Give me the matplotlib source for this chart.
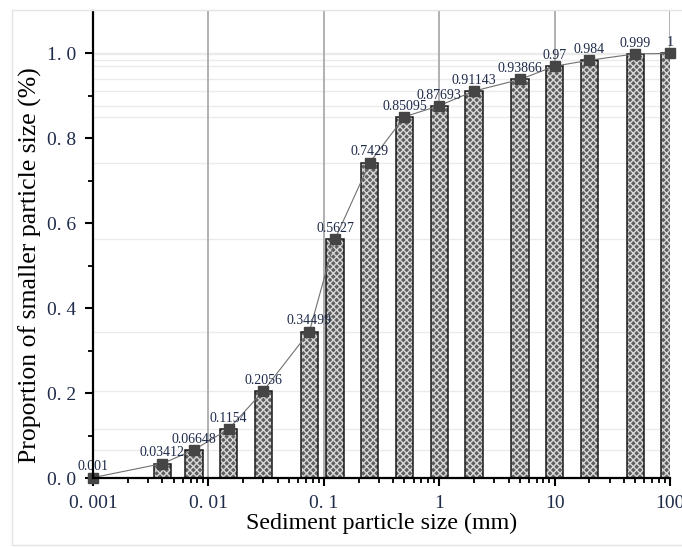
#!/usr/bin/env python3
"""
Cumulative grain-size distribution of sediment (bars + curve)
"""

import matplotlib.pyplot as plt
from matplotlib.patches import Rectangle
from matplotlib.ticker import FixedLocator, LogLocator, NullFormatter

# particle sizes (mm) and cumulative proportion finer
sizes = [0.001, 0.004, 0.0075, 0.015, 0.03, 0.075, 0.125, 0.25, 0.5,
         1, 2, 5, 10, 20, 50, 100]
proportion = [0.001, 0.03412, 0.06648, 0.1154, 0.2056, 0.34499, 0.5627, 0.7429,
              0.85095, 0.87693, 0.91143, 0.93866, 0.97, 0.984, 0.999, 1.0]
labels = ["0.001", "0.03412", "0.06648", "0.1154", "0.2056", "0.34499", "0.5627",
          "0.7429", "0.85095", "0.87693", "0.91143", "0.93866", "0.97", "0.984",
          "0.999", "1"]

x_ticks = [0.001, 0.01, 0.1, 1, 10, 100]
x_ticklabels = ["0. 001", "0. 01", "0. 1", "1", "10", "100"]
y_ticks = [0.0, 0.2, 0.4, 0.6, 0.8, 1.0]
y_ticklabels = ["0. 0", "0. 2", "0. 4", "0. 6", "0. 8", "1. 0"]


def create_plot():
    plt.rcParams['font.family'] = ['Liberation Serif', 'DejaVu Serif']
    txt_color = '#1f2b4a'

    fig = plt.figure(figsize=(6.82, 5.47), dpi=100)
    # faint frame around the picture
    fig.patches.append(Rectangle((12 / 682, 2 / 547), 1.0, 535 / 547,
                                 transform=fig.transFigure, fill=False,
                                 edgecolor='#e4e4e4', linewidth=1))
    ax = fig.add_axes([0.1364, 0.1261, 0.846, 0.8538])
    ax.set_xscale('log')

    # faint reference lines at each value
    for v in proportion[2:]:
        ax.axhline(v, color='#ebebeb', linewidth=1, zorder=0)
    for xv in x_ticks[1:]:
        ax.axvline(xv, color='#b0b0b0', linewidth=1.4, zorder=0)

    # bars with constant width in log space (0.15 decade)
    f = 10 ** 0.075
    bar_x = sizes[1:]
    bar_h = proportion[1:]
    lefts = [s / f for s in bar_x]
    widths = [s * f - s / f for s in bar_x]
    ax.bar(lefts, bar_h, width=widths, align='edge', color='#5e5e5e',
           edgecolor='#d8d8d8', hatch='xxxxx', linewidth=0, zorder=2)
    ax.bar(lefts, bar_h, width=widths, align='edge', fill=False,
           edgecolor='#1a1a1a', linewidth=1.1, zorder=3)

    # curve and markers
    ax.plot(sizes, proportion, color='#707070', linewidth=0.8, zorder=4)
    ax.plot(sizes, proportion, linestyle='none', marker='s', markersize=6.5,
            color='#454545', zorder=5, clip_on=False)

    for xv, yv, lab in zip(sizes, proportion, labels):
        ax.annotate(lab, (xv, yv), xytext=(0, 3), textcoords='offset points',
                    ha='center', va='bottom', fontsize=10, color=txt_color,
                    zorder=6, annotation_clip=False)

    ax.set_xlim(0.001, 100)
    ax.set_ylim(0, 1.1)

    ax.xaxis.set_major_locator(FixedLocator(x_ticks))
    ax.set_xticklabels(x_ticklabels)
    ax.xaxis.set_minor_locator(LogLocator(base=10, subs=range(2, 10)))
    ax.xaxis.set_minor_formatter(NullFormatter())
    ax.set_yticks(y_ticks)
    ax.set_yticklabels(y_ticklabels)
    ax.yaxis.set_minor_locator(FixedLocator([0.1, 0.3, 0.5, 0.7, 0.9]))

    ax.tick_params(which='major', direction='out', length=6, width=1.5,
                   labelsize=14, labelcolor=txt_color, pad=6)
    ax.tick_params(which='minor', direction='out', length=3.5, width=1.3)

    for side in ['top', 'right']:
        ax.spines[side].set_visible(False)
    for side in ['left', 'bottom']:
        ax.spines[side].set_linewidth(1.6)
        ax.spines[side].set_zorder(7)

    ax.set_xlabel("Sediment particle size (mm)", fontsize=17.3, labelpad=1)
    ax.set_ylabel("Proportion of smaller particle size (%)", fontsize=18.5)
    ax.yaxis.set_label_coords(-0.088, 0.456)

    fig.savefig('out.png', dpi=100)


if __name__ == "__main__":
    create_plot()
